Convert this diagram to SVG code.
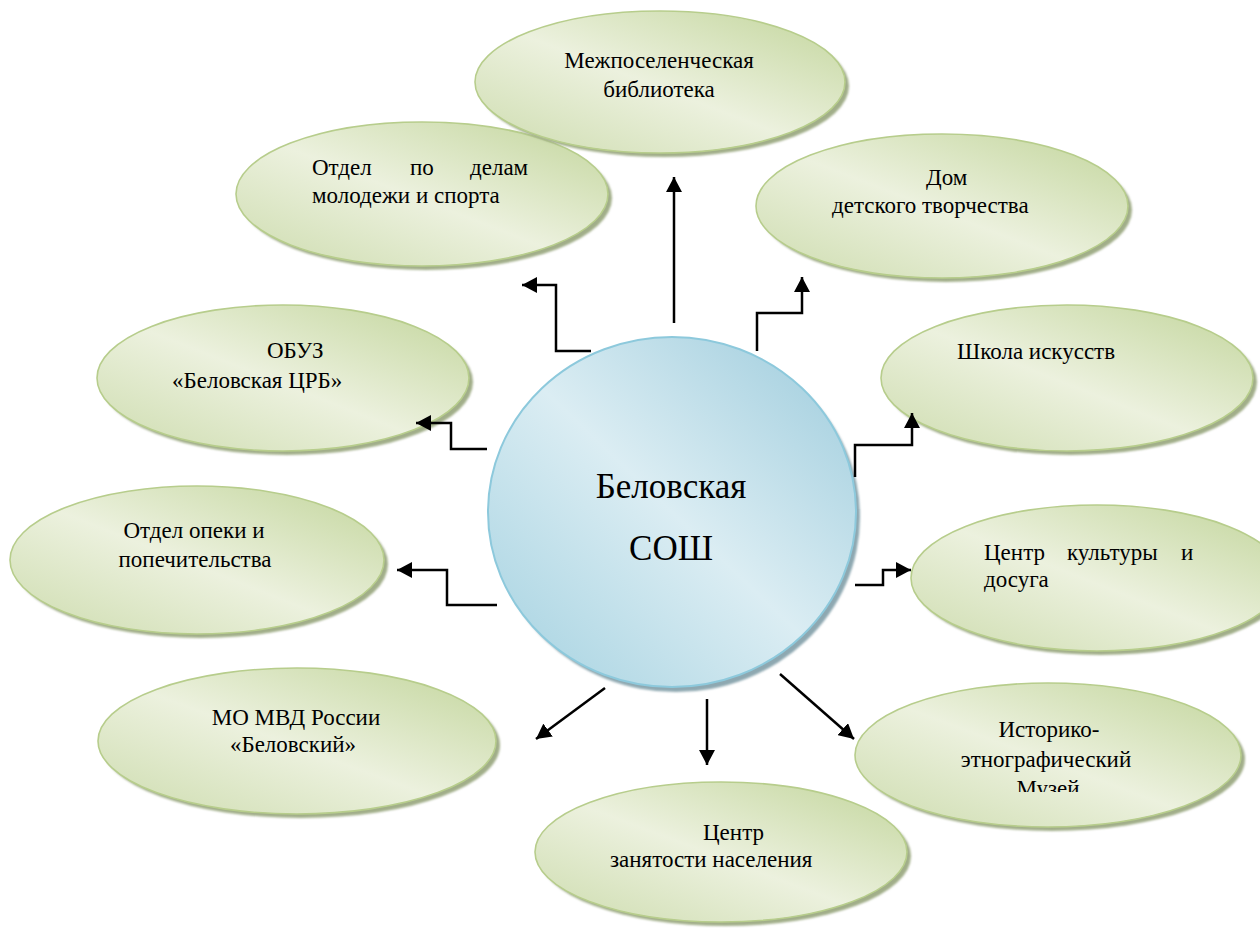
<svg xmlns="http://www.w3.org/2000/svg" width="1260" height="930" viewBox="0 0 1260 930">
<style>
  .g { fill: url(#gGreen); stroke: #b7cd8c; stroke-width: 1.6; }
  .gs { fill: #a1ae89; filter: url(#blur); }
  .t { font-family: "Liberation Serif", "Times New Roman", serif; font-size: 23px; fill: #000; }
  .tc { font-family: "Liberation Serif", "Times New Roman", serif; font-size: 35px; fill: #000; }
  .c { fill: none; stroke: #000; stroke-width: 2.5; marker-end: url(#ah); }
</style>
<defs>
  <linearGradient id="gGreen" x1="1" y1="0" x2="0" y2="1">
    <stop offset="0" stop-color="#c2d59b"/>
    <stop offset="0.52" stop-color="#ecf1de"/>
    <stop offset="1" stop-color="#cddcae"/>
  </linearGradient>
  <linearGradient id="gBlue" x1="1" y1="0" x2="0" y2="1">
    <stop offset="0" stop-color="#9ccbdc"/>
    <stop offset="0.5" stop-color="#dbedf3"/>
    <stop offset="1" stop-color="#a3d1e0"/>
  </linearGradient>
  <filter id="blur" x="-5%" y="-5%" width="110%" height="110%">
    <feGaussianBlur stdDeviation="1.2"/>
  </filter>
  <marker id="ah" markerUnits="userSpaceOnUse" markerWidth="16" markerHeight="16" refX="15" refY="8" orient="auto">
    <path d="M0,0 L15,8 L0,16 z" fill="#000"/>
  </marker>
  <clipPath id="clipMuz">
    <rect x="850" y="680" width="410" height="112"/>
  </clipPath>
</defs>

<g id="node-otdel-molodezh">
  <ellipse class="gs" cx="426" cy="198" rx="186" ry="72"/>
  <ellipse class="g" cx="422" cy="194" rx="186" ry="72"/>
  <text class="t" x="312" y="175">Отдел</text>
  <text class="t" x="410" y="175">по</text>
  <text class="t" x="470" y="175">делам</text>
  <text class="t" x="312" y="203">молодежи и спорта</text>
</g>

<g id="node-biblioteka">
  <ellipse class="gs" cx="664" cy="86" rx="185" ry="71"/>
  <ellipse class="g" cx="660" cy="82" rx="185" ry="71"/>
  <text class="t" x="659" y="68" text-anchor="middle">Межпоселенческая</text>
  <text class="t" x="659" y="97" text-anchor="middle">библиотека</text>
</g>

<g id="node-dom">
  <ellipse class="gs" cx="946" cy="210" rx="186" ry="72"/>
  <ellipse class="g" cx="942" cy="206" rx="186" ry="72"/>
  <text class="t" x="926" y="185">Дом</text>
  <text class="t" x="832" y="213">детского творчества</text>
</g>

<g id="node-obuz">
  <ellipse class="gs" cx="287" cy="382" rx="186" ry="73"/>
  <ellipse class="g" cx="283" cy="378" rx="186" ry="73"/>
  <text class="t" x="267" y="358">ОБУЗ</text>
  <text class="t" x="172" y="388">«Беловская ЦРБ»</text>
</g>

<g id="node-shkola">
  <ellipse class="gs" cx="1071" cy="382" rx="186" ry="73"/>
  <ellipse class="g" cx="1067" cy="378" rx="186" ry="73"/>
  <text class="t" x="957" y="359">Школа искусств</text>
</g>

<g id="node-opeka">
  <ellipse class="gs" cx="201" cy="564" rx="187" ry="74"/>
  <ellipse class="g" cx="197" cy="560" rx="187" ry="74"/>
  <text class="t" x="194" y="538" text-anchor="middle">Отдел опеки и</text>
  <text class="t" x="195" y="567" text-anchor="middle">попечительства</text>
</g>

<g id="node-kultura">
  <ellipse class="gs" cx="1101" cy="582" rx="186" ry="73"/>
  <ellipse class="g" cx="1097" cy="578" rx="186" ry="73"/>
  <text class="t" x="984" y="560">Центр</text>
  <text class="t" x="1067" y="560">культуры</text>
  <text class="t" x="1181" y="560">и</text>
  <text class="t" x="984" y="587">досуга</text>
</g>

<g id="node-mvd">
  <ellipse class="gs" cx="301" cy="745" rx="199" ry="73"/>
  <ellipse class="g" cx="297" cy="741" rx="199" ry="73"/>
  <text class="t" x="296" y="725" text-anchor="middle">МО МВД России</text>
  <text class="t" x="293" y="752" text-anchor="middle">«Беловский»</text>
</g>

<g id="node-muzei">
  <ellipse class="gs" cx="1052" cy="759" rx="193" ry="72"/>
  <ellipse class="g" cx="1048" cy="755" rx="193" ry="72"/>
  <text class="t" x="1049" y="737" text-anchor="middle">Историко-</text>
  <text class="t" x="1046" y="767" text-anchor="middle">этнографический</text>
  <text class="t" x="1048" y="796" text-anchor="middle" clip-path="url(#clipMuz)">Музей</text>
</g>

<g id="node-zanyatost">
  <ellipse class="gs" cx="725" cy="856" rx="186" ry="70"/>
  <ellipse class="g" cx="721" cy="852" rx="186" ry="70"/>
  <text class="t" x="703" y="840">Центр</text>
  <text class="t" x="610" y="867">занятости населения</text>
</g>

<g id="node-center">
  <ellipse cx="676" cy="517" rx="184" ry="175" fill="#8ea8b1" filter="url(#blur)"/>
  <ellipse cx="672" cy="512" rx="184" ry="175" fill="url(#gBlue)" stroke="#8dc9dc" stroke-width="2"/>
  <text class="tc" x="671" y="498" text-anchor="middle">Беловская</text>
  <text class="tc" x="671" y="560" text-anchor="middle">СОШ</text>
</g>

<g id="connectors">
  <path class="c" d="M674,323 V177"/>
  <path class="c" d="M591,351 H556 V285 H522"/>
  <path class="c" d="M757,351 V313 H802 V277"/>
  <path class="c" d="M487,449 H451 V423 H416"/>
  <path class="c" d="M855,477 V445 H912 V413"/>
  <path class="c" d="M497,605 H447 V570 H397"/>
  <path class="c" d="M855,585 H883 V570 H911"/>
  <path class="c" d="M605,688 L536,739"/>
  <path class="c" d="M707,699 V765"/>
  <path class="c" d="M780,674 L854,739"/>
</g>
</svg>
